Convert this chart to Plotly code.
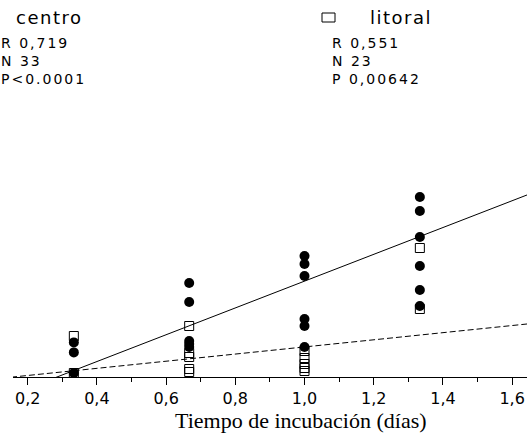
import plotly.graph_objects as go

# ---- data (y in arbitrary units) ----
centro_x = [1/3, 1/3, 1/3,
            2/3, 2/3, 2/3, 2/3, 2/3,
            1.0, 1.0, 1.0, 1.0, 1.0, 1.0,
            4/3, 4/3, 4/3, 4/3, 4/3, 4/3]
centro_y = [1.73, 1.23, 0.2,
            4.7, 3.75, 1.8, 1.65, 1.5,
            6.05, 5.65, 5.05, 2.9, 2.55, 1.5,
            9.0, 8.3, 7.0, 5.55, 4.35, 3.55]

litoral_x = [1/3, 1/3,
             2/3, 2/3, 2/3, 2/3, 2/3,
             1.0, 1.0, 1.0, 1.0, 1.0,
             4/3, 4/3]
litoral_y = [2.05, 0.2,
             2.55, 1.2, 1.0, 0.4, 0.25,
             1.3, 0.95, 0.65, 0.45, 0.3,
             6.45, 3.4]

# regression lines (slope, intercept)
centro_fit = (6.70, -1.907)
litoral_fit = (1.784, -0.281)
fit_x = [0.1, 1.7]

x_ticks = [0.2, 0.4, 0.6, 0.8, 1.0, 1.2, 1.4, 1.6]
x_range = [0.1575, 1.643]
y_range = [0, 14]

centro_stats = ["R 0,719", "N 33", "P<0.0001"]
litoral_stats = ["R 0,551", "N 23", "P 0,00642"]
x_title = "Tiempo de incubación (días)"

# ---- figure ----
W, H = 527, 433
ML, MR, MT, MB = 13, 0, 97, 56
PW, PH = W - ML - MR, H - MT - MB


def px_x(p):
    return (p - ML) / PW


def px_y(p):
    return (H - MB - p) / PH


fig = go.Figure()

fig.add_trace(go.Scatter(
    x=fit_x, y=[centro_fit[0] * v + centro_fit[1] for v in fit_x],
    mode="lines", line=dict(color="black", width=1), hoverinfo="skip"))
fig.add_trace(go.Scatter(
    x=fit_x, y=[litoral_fit[0] * v + litoral_fit[1] for v in fit_x],
    mode="lines", line=dict(color="black", width=1, dash="6px,3px"), hoverinfo="skip"))

fig.add_trace(go.Scatter(
    x=litoral_x, y=litoral_y, mode="markers", cliponaxis=False,
    marker=dict(symbol="square-open", size=9, color="black", line=dict(width=1))))
fig.add_trace(go.Scatter(
    x=centro_x, y=centro_y, mode="markers", cliponaxis=False,
    marker=dict(symbol="circle", size=10, color="black")))

sans = "DejaVu Sans"


def wide(t, ls):
    return '<span style="letter-spacing:%spx">%s</span>' % (ls, t)


ann = []
# legend labels
ann.append(dict(text=wide("centro", 1.5), x=px_x(15), y=px_y(17.5), xanchor="left", yanchor="middle",
                font=dict(family=sans, size=18, color="black")))
ann.append(dict(text=wide("litoral", 1.5), x=px_x(369), y=px_y(17.5), xanchor="left", yanchor="middle",
                font=dict(family=sans, size=18, color="black")))
# statistics blocks (one multi-line text each)
ann.append(dict(text="<br>".join(wide(t, 2) for t in centro_stats), x=px_x(0), y=px_y(60.5),
                xanchor="left", yanchor="middle", align="left",
                font=dict(family=sans, size=14, color="black")))
ann.append(dict(text="<br>".join(wide(t, 2) for t in litoral_stats), x=px_x(331), y=px_y(60.5),
                xanchor="left", yanchor="middle", align="left",
                font=dict(family=sans, size=14, color="black")))
for a in ann:
    a.update(xref="paper", yref="paper", showarrow=False, borderpad=0)

# axis title (centred on the full, partly cropped axis)
ann.append(dict(text=x_title, xref="x", x=0.99, yref="paper", y=px_y(421),
                xanchor="center", yanchor="middle", showarrow=False,
                font=dict(family="Liberation Serif", size=22, color="black")))

shapes = [dict(type="rect", xref="paper", yref="paper",
               x0=px_x(322), x1=px_x(335), y0=px_y(22), y1=px_y(13),
               line=dict(color="black", width=1))]

fig.update_layout(
    width=W, height=H, autosize=False,
    margin=dict(l=ML, r=MR, t=MT, b=MB, pad=0),
    paper_bgcolor="white", plot_bgcolor="white",
    showlegend=False, separators=",.",
    annotations=ann, shapes=shapes,
    xaxis=dict(range=x_range, tickvals=x_ticks, tickformat=".1f",
               showgrid=False, zeroline=False, showline=True, linecolor="black", linewidth=1,
               ticks="outside", ticklen=7, tickwidth=1, tickcolor="black",
               tickfont=dict(family=sans, size=16, color="black"),
               minor=dict(dtick=0.1, tick0=0, ticks="outside", ticklen=4, tickcolor="black", tickwidth=1)),
    yaxis=dict(range=y_range, visible=False, showgrid=False, zeroline=False),
)

fig.write_html("out.html", config={"displayModeBar": False},
               post_script="document.body.style.margin='0';document.body.style.overflow='hidden';")
